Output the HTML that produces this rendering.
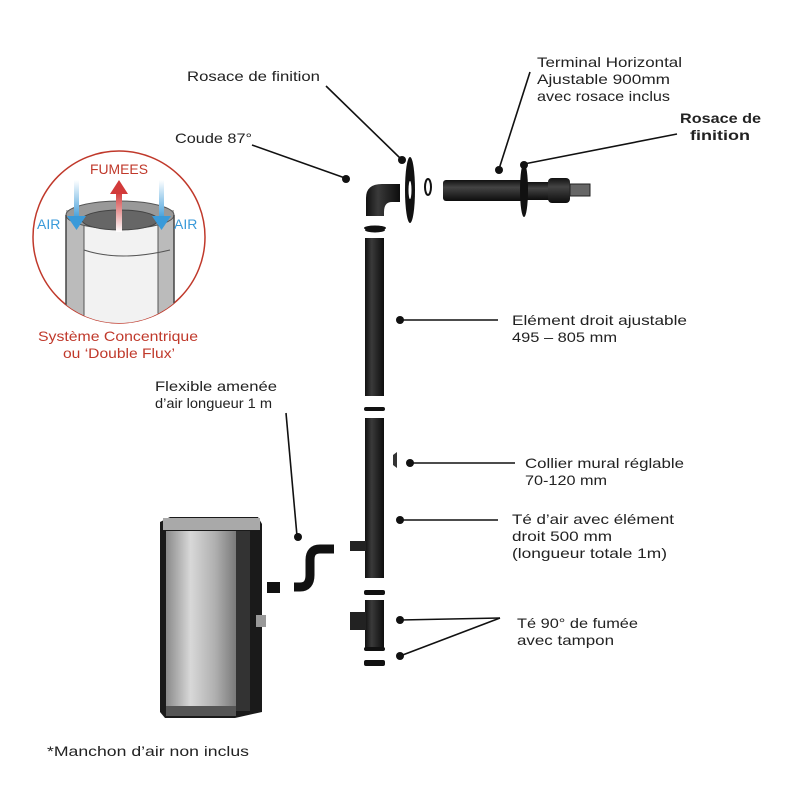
<!DOCTYPE html>
<html><head><meta charset="utf-8"><style>
body{margin:0;background:#fff;}
svg{display:block}
text{font-family:"Liberation Sans",sans-serif;fill:#222;font-size:14px}
</style></head><body>
<svg width="800" height="800" viewBox="0 0 800 800" xmlns="http://www.w3.org/2000/svg">
<defs>
<linearGradient id="pipe" x1="0" x2="1"><stop offset="0" stop-color="#111"/><stop offset=".35" stop-color="#3a3a3a"/><stop offset="1" stop-color="#0d0d0d"/></linearGradient>
<linearGradient id="hpipe" x1="0" x2="0" y1="0" y2="1"><stop offset="0" stop-color="#111"/><stop offset=".35" stop-color="#444"/><stop offset="1" stop-color="#0d0d0d"/></linearGradient>
<linearGradient id="steel" x1="0" x2="1"><stop offset="0" stop-color="#8a8a8a"/><stop offset=".35" stop-color="#d8d8d8"/><stop offset=".7" stop-color="#b0b0b0"/><stop offset="1" stop-color="#7a7a7a"/></linearGradient>
<linearGradient id="red" x1="0" x2="0" y1="1" y2="0"><stop offset="0" stop-color="#fff"/><stop offset="1" stop-color="#d23a3a"/></linearGradient>
<linearGradient id="blue" x1="0" x2="0" y1="0" y2="1"><stop offset="0" stop-color="#fff"/><stop offset="1" stop-color="#3a9ad9"/></linearGradient>
<clipPath id="cc"><circle cx="119" cy="237" r="86"/></clipPath>
</defs>

<circle cx="119" cy="237" r="86" fill="#fff" stroke="#c0392b" stroke-width="1.5"/>
<g clip-path="url(#cc)">
<rect x="66" y="210" width="108" height="130" fill="#bbb"/>
<rect x="84" y="225" width="74" height="120" fill="#f2f2f2" stroke="#555"/>
<ellipse cx="120" cy="215" rx="54" ry="14" fill="#999" stroke="#555"/>
<ellipse cx="120" cy="220" rx="38" ry="10" fill="#666" stroke="#444"/>
<path d="M66 215 V340 M174 215 V340" stroke="#444" fill="none" stroke-width="1.5"/>
<path d="M84 250 Q120 262 170 250" stroke="#555" fill="none"/>
</g>
<text x="90" y="174" textLength="58" lengthAdjust="spacingAndGlyphs" style="fill:#c0392b">FUMEES</text>
<rect x="116" y="192" width="6" height="40" fill="url(#red)"/>
<polygon points="110,194 128,194 119,180" fill="#d23a3a"/>
<rect x="74" y="180" width="5" height="40" fill="url(#blue)"/>
<polygon points="67,216 86,216 76.5,230" fill="#3a9ad9"/>
<rect x="159" y="180" width="5" height="40" fill="url(#blue)"/>
<polygon points="152,216 171,216 161.5,230" fill="#3a9ad9"/>
<text x="37" y="229" style="fill:#3a9ad9">AIR</text>
<text x="174" y="229" style="fill:#3a9ad9">AIR</text>
<text x="38" y="341" textLength="160" lengthAdjust="spacingAndGlyphs" style="fill:#c0392b">Système Concentrique</text>
<text x="63" y="358" textLength="112" lengthAdjust="spacingAndGlyphs" style="fill:#c0392b">ou ‘Double Flux’</text>

<path d="M366 216 V198 Q366 184 382 184 H400 V202 H392 Q384 202 384 212 V216 Z" fill="url(#pipe)"/>
<ellipse cx="375" cy="228" rx="11" ry="2.5" fill="#111"/>
<ellipse cx="410" cy="190" rx="5" ry="33" fill="#111"/>
<ellipse cx="410" cy="190" rx="1.5" ry="9" fill="#fff"/>
<ellipse cx="428" cy="187" rx="3" ry="8" fill="none" stroke="#111" stroke-width="2"/>
<rect x="443" y="180" width="80" height="21" rx="3" fill="url(#hpipe)"/>
<rect x="523" y="182" width="35" height="18" fill="url(#hpipe)"/>
<rect x="548" y="178" width="22" height="25" rx="4" fill="url(#hpipe)"/>
<rect x="570" y="184" width="20" height="12" fill="#666" stroke="#222"/>
<ellipse cx="524" cy="190" rx="4" ry="27" fill="#111"/>

<ellipse cx="375" cy="230" rx="10" ry="2.5" fill="#111"/>
<rect x="365" y="238" width="19" height="158" fill="url(#pipe)"/>
<rect x="364" y="407" width="21" height="4" rx="2" fill="#111"/>
<rect x="365" y="418" width="19" height="160" fill="url(#pipe)"/>
<rect x="350" y="541" width="16" height="10" fill="#222"/>
<path d="M385 460 h8 v-5 l4 -3 v16 l-4 -3 v-5" fill="#333"/>
<rect x="364" y="590" width="21" height="5" rx="2" fill="#111"/>
<rect x="365" y="600" width="19" height="50" fill="url(#pipe)"/>
<rect x="350" y="612" width="16" height="18" fill="#222"/>
<rect x="364" y="647" width="21" height="4" rx="2" fill="#111"/>
<rect x="364" y="660" width="21" height="6" rx="2" fill="#111"/>

<polygon points="160,522 170,517 258,517 262,524 262,712 235,718 165,718 160,712" fill="#1a1a1a"/>
<rect x="163" y="518" width="97" height="12" fill="#a9a9a9"/>
<rect x="166" y="531" width="70" height="175" fill="url(#steel)"/>
<rect x="236" y="531" width="14" height="180" fill="#333"/>
<rect x="166" y="706" width="70" height="10" fill="#555"/>
<rect x="256" y="615" width="10" height="12" fill="#999"/>
<rect x="267" y="582" width="13" height="11" fill="#111"/>
<path d="M294 587 H300 Q310 587 310 575 V560 Q310 549 320 549 H334" stroke="#111" stroke-width="9" fill="none"/>

<g stroke="#111" stroke-width="1.6" fill="none">
<line x1="326" y1="86" x2="401" y2="159"/>
<line x1="252" y1="145" x2="345" y2="178"/>
<line x1="530" y1="72" x2="499" y2="169"/>
<line x1="677" y1="134" x2="524" y2="164"/>
<line x1="400" y1="320" x2="498" y2="320"/>
<line x1="410" y1="463" x2="515" y2="463"/>
<line x1="400" y1="520" x2="498" y2="520"/>
<line x1="400" y1="620" x2="500" y2="618"/>
<line x1="400" y1="656" x2="500" y2="618"/>
<line x1="286" y1="413" x2="297" y2="536"/>
</g>
<g fill="#111">
<circle cx="402" cy="160" r="4"/><circle cx="346" cy="179" r="4"/><circle cx="499" cy="170" r="4"/><circle cx="524" cy="165" r="4"/>
<circle cx="400" cy="320" r="4"/><circle cx="410" cy="463" r="4"/><circle cx="400" cy="520" r="4"/>
<circle cx="400" cy="620" r="4"/><circle cx="400" cy="656" r="4"/><circle cx="298" cy="537" r="4"/>
</g>

<g style="font-size:14px" lengthAdjust="spacingAndGlyphs">
<text x="187" y="81" textLength="133" lengthAdjust="spacingAndGlyphs">Rosace de finition</text>
<text x="175" y="143" textLength="77" lengthAdjust="spacingAndGlyphs">Coude 87°</text>
<text x="537" y="67" textLength="145" lengthAdjust="spacingAndGlyphs">Terminal Horizontal</text>
<text x="537" y="84" textLength="133" lengthAdjust="spacingAndGlyphs">Ajustable 900mm</text>
<text x="537" y="101" textLength="133" lengthAdjust="spacingAndGlyphs">avec rosace inclus</text>
<text x="680" y="123" textLength="81" lengthAdjust="spacingAndGlyphs" style="font-weight:bold">Rosace de</text>
<text x="690" y="140" textLength="60" lengthAdjust="spacingAndGlyphs" style="font-weight:bold">finition</text>
<text x="512" y="325" textLength="175" lengthAdjust="spacingAndGlyphs">Elément droit ajustable</text>
<text x="512" y="342" textLength="105" lengthAdjust="spacingAndGlyphs">495 – 805 mm</text>
<text x="525" y="468" textLength="159" lengthAdjust="spacingAndGlyphs">Collier mural réglable</text>
<text x="525" y="485" textLength="82" lengthAdjust="spacingAndGlyphs">70-120 mm</text>
<text x="512" y="524" textLength="162" lengthAdjust="spacingAndGlyphs">Té d’air avec élément</text>
<text x="512" y="541" textLength="100" lengthAdjust="spacingAndGlyphs">droit 500 mm</text>
<text x="512" y="558" textLength="155" lengthAdjust="spacingAndGlyphs">(longueur totale 1m)</text>
<text x="517" y="628" textLength="121" lengthAdjust="spacingAndGlyphs">Té 90° de fumée</text>
<text x="517" y="645" textLength="97" lengthAdjust="spacingAndGlyphs">avec tampon</text>
<text x="155" y="391" textLength="122" lengthAdjust="spacingAndGlyphs">Flexible amenée</text>
<text x="155" y="408" textLength="117" lengthAdjust="spacingAndGlyphs">d’air longueur 1 m</text>
<text x="47" y="756" textLength="202" lengthAdjust="spacingAndGlyphs">*Manchon d’air non inclus</text>
</g>
</svg>
</body></html>
